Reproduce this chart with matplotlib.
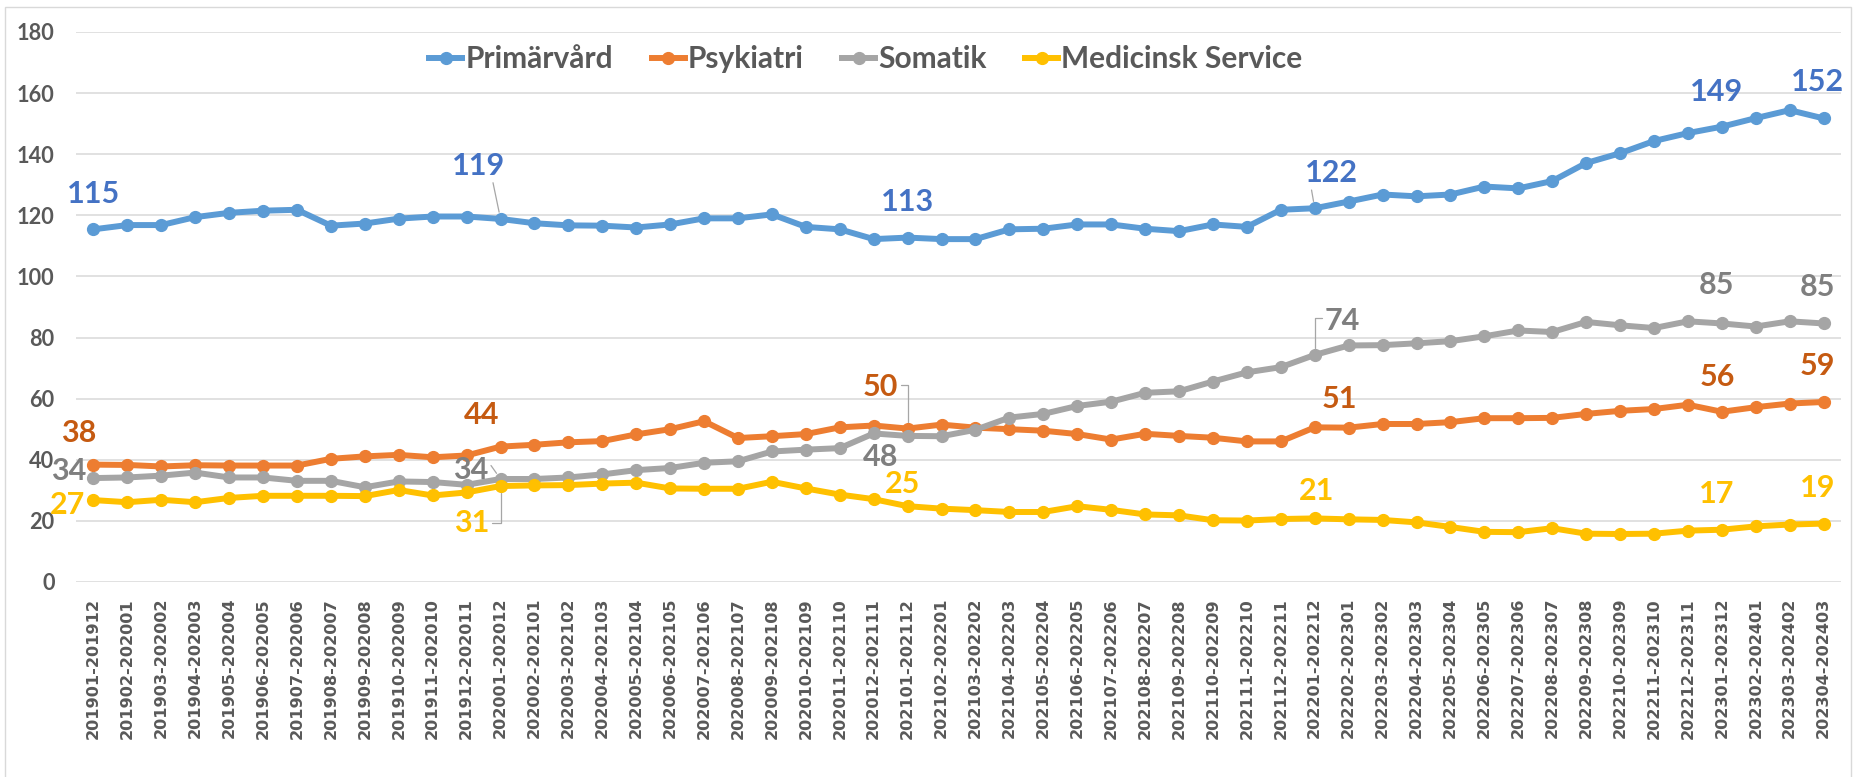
import matplotlib
matplotlib.use("Agg")
import matplotlib.pyplot as plt
from matplotlib.patches import Rectangle

# Rullande 12-månadersperioder
periods = [
    "201901-201912", "201902-202001", "201903-202002", "201904-202003", "201905-202004",
    "201906-202005", "201907-202006", "201908-202007", "201909-202008", "201910-202009",
    "201911-202010", "201912-202011", "202001-202012", "202002-202101", "202003-202102",
    "202004-202103", "202005-202104", "202006-202105", "202007-202106", "202008-202107",
    "202009-202108", "202010-202109", "202011-202110", "202012-202111", "202101-202112",
    "202102-202201", "202103-202202", "202104-202203", "202105-202204", "202106-202205",
    "202107-202206", "202108-202207", "202109-202208", "202110-202209", "202111-202210",
    "202112-202211", "202201-202212", "202202-202301", "202203-202302", "202204-202303",
    "202205-202304", "202206-202305", "202207-202306", "202208-202307", "202209-202308",
    "202210-202309", "202211-202310", "202212-202311", "202301-202312", "202302-202401",
    "202303-202402", "202304-202403",
]

primarvard = [
    115.4, 116.8, 116.8, 119.4, 120.8, 121.5, 121.8, 116.6, 117.3, 118.9,
    119.6, 119.6, 118.8, 117.4, 116.7, 116.6, 116.0, 117.0, 119.0, 119.0,
    120.3, 116.2, 115.4, 112.2, 112.7, 112.2, 112.2, 115.4, 115.6, 117.0,
    117.0, 115.6, 114.8, 117.0, 116.2, 121.8, 122.3, 124.5, 126.8, 126.2,
    126.8, 129.4, 128.8, 131.2, 137.1, 140.3, 144.3, 146.9, 149.0, 151.8,
    154.4, 151.7,
]
psykiatri = [
    38.4, 38.3, 37.8, 38.2, 38.1, 38.1, 38.1, 40.3, 41.1, 41.6,
    40.8, 41.4, 44.3, 44.9, 45.7, 46.1, 48.3, 50.0, 52.6, 47.1,
    47.7, 48.4, 50.6, 51.2, 50.2, 51.5, 50.5, 50.0, 49.5, 48.4,
    46.6, 48.5, 47.8, 47.2, 46.0, 46.0, 50.6, 50.5, 51.7, 51.7,
    52.3, 53.6, 53.6, 53.7, 55.0, 56.0, 56.6, 58.0, 55.7, 57.2,
    58.4, 58.9,
]
somatik = [
    34.0, 34.2, 34.8, 35.8, 34.2, 34.2, 33.1, 33.1, 31.0, 32.9,
    32.7, 31.8, 33.7, 33.7, 34.2, 35.2, 36.6, 37.3, 39.0, 39.5,
    42.7, 43.3, 43.8, 48.6, 47.8, 47.7, 49.8, 53.8, 55.0, 57.6,
    59.0, 61.9, 62.4, 65.6, 68.6, 70.3, 74.3, 77.4, 77.5, 78.1,
    78.8, 80.4, 82.3, 81.8, 85.1, 84.0, 83.1, 85.3, 84.6, 83.6,
    85.3, 84.6,
]
medicinsk_service = [
    26.8, 26.1, 26.9, 26.1, 27.5, 28.2, 28.2, 28.2, 28.1, 30.1,
    28.3, 29.3, 31.4, 31.6, 31.7, 32.2, 32.5, 30.6, 30.5, 30.5,
    32.8, 30.6, 28.6, 27.1, 24.8, 24.0, 23.5, 22.9, 22.9, 24.8,
    23.6, 22.1, 21.8, 20.2, 20.1, 20.6, 20.8, 20.5, 20.3, 19.5,
    18.0, 16.4, 16.3, 17.6, 15.8, 15.7, 15.8, 16.8, 17.1, 18.2,
    18.8, 19.1,
]

# Punkter med dataetiketter (årsskiften + sista perioden)
label_idx = [0, 12, 24, 36, 48, 51]

# (namn, värden, linjefärg, etikettfärg, etikettförskjutning i pixlar, ledarlinjer)
series = [
    ("Primärvård", primarvard, "#5B9BD5", "#4472C4",
     [(0, 35), (-22, 53), (0, 36), (17, 35), (-5, 35), (-6, 36)],
     {12: dict(relpos=(0.75, 0.1)), 36: dict(relpos=(0.1, 0.1))}),
    ("Psykiatri", psykiatri, "#ED7D31", "#C55A11",
     [(-15, 32), (-19, 32), (-27, 42), (25, 28), (-5, 35), (-6, 36)],
     {24: dict(relpos=(1.0, 0.55), connectionstyle="angle,angleA=0,angleB=90,rad=0")}),
    ("Somatik", somatik, "#A5A5A5", "#7F7F7F",
     [(-25, 7), (-30, 9), (-27, -21), (28, 34), (-5, 38), (-6, 36)],
     {12: dict(relpos=(1.0, 0.8)),
      36: dict(relpos=(0.0, 0.6), connectionstyle="angle,angleA=0,angleB=90,rad=0")}),
    ("Medicinsk Service", medicinsk_service, "#FFC000", "#FFC000",
     [(-26, -5), (-29, -37), (-5, 22), (2, 27), (-5, 36), (-6, 36)],
     {12: dict(relpos=(1.0, 0.5), connectionstyle="angle,angleA=0,angleB=90,rad=0")}),
]

plt.rcParams["font.family"] = ["Lato", "DejaVu Sans"]
TEXT_GREY = "#595959"

fig = plt.figure(figsize=(18.56, 7.77), dpi=100)
ax = fig.add_axes([0.0412, 0.251, 0.9505, 0.7079])

x = list(range(len(periods)))
for name, vals, col, lcol, offsets, leaders in series:
    ax.plot(x, vals, color=col, lw=4.3, marker="o", ms=8.5, label=name,
            zorder=3, solid_joinstyle="round")
    for i, (dx, dy) in zip(label_idx, offsets):
        arrow = None
        if i in leaders:
            arrow = dict(arrowstyle="-", color="#A6A6A6", lw=0.9,
                         shrinkA=0, shrinkB=5)
            arrow.update(leaders[i])
        ax.annotate(f"{round(vals[i])}", xy=(i, vals[i]), xytext=(dx, dy),
                    textcoords="offset pixels", ha="center", va="center",
                    fontsize=22, fontweight="bold", color=lcol,
                    arrowprops=arrow, zorder=5)

ax.set_xlim(-0.5, len(periods) - 0.5)
ax.set_ylim(0, 180)
ax.set_yticks(range(0, 181, 20))
ax.set_xticks(x)
ax.set_xticklabels(periods, rotation=90, fontfamily="DejaVu Sans",
                   fontweight="bold", fontsize=11.6, color=TEXT_GREY)
ax.tick_params(axis="both", length=0)
ax.tick_params(axis="x", pad=11.5)
ax.tick_params(axis="y", pad=15.8, labelsize=15.7, labelcolor=TEXT_GREY)
for lab in ax.get_yticklabels():
    lab.set_fontweight("bold")
ax.grid(axis="y", color="#D9D9D9", lw=1.1)
ax.set_axisbelow(True)
for s in ax.spines.values():
    s.set_visible(False)

leg = fig.legend(loc="center", bbox_to_anchor=(0.4666, 0.924), ncol=4,
                 frameon=False, prop=dict(family="Lato", weight="bold", size=21.5),
                 handlelength=1.1, handletextpad=0.1, columnspacing=1.3)
for t in leg.get_texts():
    t.set_color(TEXT_GREY)

# Diagramram
fig.patches.append(Rectangle((5 / 1856, -0.01), 1846 / 1856, 1 - 7 / 777 + 0.01,
                             transform=fig.transFigure, fill=False,
                             ec="#D9D9D9", lw=1))

fig.savefig("out.png", dpi=100)
